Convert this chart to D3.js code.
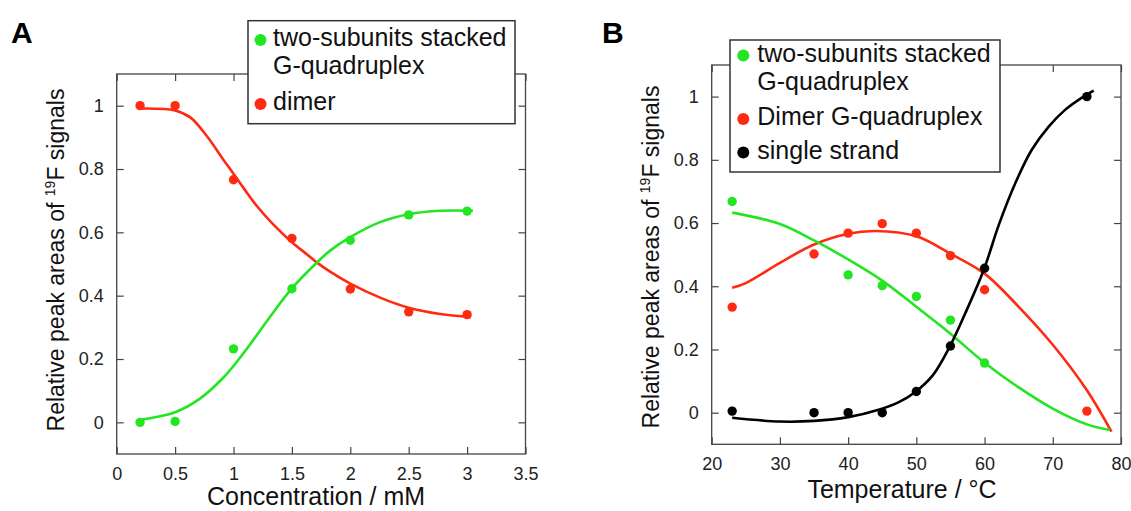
<!DOCTYPE html>
<html>
<head>
<meta charset="utf-8">
<script src="https://cdn.jsdelivr.net/npm/d3@7"></script>
<style>
  body { margin: 0; background: #fff; }
  svg { display: block; font-family: "Liberation Sans", Arial, sans-serif; }
</style>
</head>
<body>
<div id="app"></div>
<script>
// ---- Panel A: concentration series ----
const concA = [0.2, 0.5, 1, 1.5, 2, 2.5, 3];
const stackedA = [0, 0.003, 0.232, 0.422, 0.575, 0.655, 0.667];
const dimerA = [1.0, 1.0, 0.766, 0.581, 0.421, 0.349, 0.34];

// fitted curves in panel A
const fitConcStackedA = [0.2, 0.5, 0.71, 0.91, 1.0, 1.14, 1.31, 1.5, 1.71, 1.83, 2.0, 2.26, 2.5, 2.77, 3.05];
const fitStackedA = [0.008, 0.032, 0.074, 0.14, 0.178, 0.245, 0.332, 0.423, 0.503, 0.543, 0.585, 0.633, 0.657, 0.668, 0.668];
const fitConcDimerA = [0.2, 0.5, 0.63, 0.77, 0.91, 1.0, 1.09, 1.2, 1.34, 1.49, 1.63, 1.71, 1.83, 2.0, 2.26, 2.5, 2.77, 3.03];
const fitDimerA = [0.991, 0.985, 0.963, 0.905, 0.831, 0.785, 0.738, 0.683, 0.625, 0.572, 0.53, 0.506, 0.475, 0.438, 0.393, 0.362, 0.342, 0.332];

// ---- Panel B: temperature series ----
const tempStackedB = [23, 40, 45, 50, 55, 60];
const stackedB = [0.668, 0.436, 0.402, 0.368, 0.293, 0.157];
const tempB = [23, 35, 40, 45, 50, 55, 60, 75];
const dimerB = [0.334, 0.502, 0.568, 0.598, 0.568, 0.497, 0.389, 0.005];
const singleB = [0.005, 0, 0, 0, 0.067, 0.211, 0.457, 1.0];

// fitted curves in panel B
const fitTempStackedB = [23, 30, 35, 40, 45, 50, 55, 60, 65, 70, 75, 78.4];
const fitStackedB = [0.633, 0.597, 0.545, 0.485, 0.418, 0.335, 0.25, 0.158, 0.08, 0.013, -0.037, -0.055];
const fitTempDimerB = [23, 25, 30, 35, 40, 44, 50, 55, 60, 65, 70, 75, 78.6];
const fitDimerB = [0.395, 0.41, 0.474, 0.532, 0.566, 0.575, 0.558, 0.503, 0.44, 0.335, 0.215, 0.071, -0.06];
const fitTempSingleB = [23, 30, 35, 40, 44.6, 47.5, 49.7, 52.4, 54.8, 57.2, 59.9, 62.1, 64.5, 66.9, 69.4, 71.8, 74.5, 76];
const fitSingleB = [-0.016, -0.028, -0.026, -0.014, 0.01, 0.034, 0.063, 0.118, 0.205, 0.316, 0.453, 0.595, 0.726, 0.831, 0.905, 0.958, 1.0, 1.019];

// ---- ticks ----
const yTicks = [0, 0.2, 0.4, 0.6, 0.8, 1];
const xTicksA = [0, 0.5, 1, 1.5, 2, 2.5, 3, 3.5];
const xTicksB = [20, 30, 40, 50, 60, 70, 80];

const green = "#22e622";
const red = "#ff2a12";
const black = "#000";

const width = 1131;
const height = 511;

const svg = d3
  .select("#app")
  .append("svg")
  .attr("width", width)
  .attr("height", height);

function drawPanel(p) {
  const xScale = d3.scaleLinear().domain(p.xDomain).range(p.xRange);
  const yScale = d3.scaleLinear().domain([-0.1, 1.1]).range(p.yRange);
  const [left, right] = p.xRange;
  const [bottom, top] = p.yRange;
  const g = svg.append("g");

  // axes with inward ticks on all four sides
  const axes = [
    [d3.axisBottom(xScale).tickValues(p.xTicks), `translate(0,${bottom})`, true],
    [d3.axisTop(xScale).tickValues(p.xTicks), `translate(0,${top})`, false],
    [d3.axisLeft(yScale).tickValues(yTicks), `translate(${left},0)`, true],
    [d3.axisRight(yScale).tickValues(yTicks), `translate(${right},0)`, false]
  ];
  axes.forEach(([axis, tr, labels]) => {
    const a = g
      .append("g")
      .attr("transform", tr)
      .call(
        axis
          .tickSizeInner(-7)
          .tickSizeOuter(0)
          .tickPadding(13)
          .tickFormat(labels ? (d) => String(d) : "")
      );
    a.select(".domain").remove();
    a.selectAll("line").attr("stroke", "#444").attr("stroke-width", 1.2);
    a.selectAll("text")
      .attr("font-size", 18)
      .attr("fill", "#222")
      .attr("font-family", "Liberation Sans, Arial, sans-serif");
  });

  // frame
  g.append("rect")
    .attr("x", left)
    .attr("y", top)
    .attr("width", right - left)
    .attr("height", bottom - top)
    .attr("fill", "none")
    .attr("stroke", "#444")
    .attr("stroke-width", 1.3);

  const line = d3
    .line()
    .x((d) => xScale(d[0]))
    .y((d) => yScale(d[1]))
    .curve(d3.curveCatmullRom.alpha(0.5));

  // fitted curves
  p.fits.forEach((f) => {
    g.append("path")
      .datum(d3.zip(f.x, f.y))
      .attr("d", line)
      .attr("fill", "none")
      .attr("stroke", f.color)
      .attr("stroke-width", 2.6);
  });

  // data points
  p.points.forEach((s) => {
    g.selectAll(null)
      .data(d3.zip(s.x, s.y))
      .enter()
      .append("circle")
      .attr("cx", (d) => xScale(d[0]))
      .attr("cy", (d) => yScale(d[1]))
      .attr("r", 4.7)
      .attr("fill", s.color);
  });

  // axis titles
  g.append("text")
    .attr("x", p.xTitlePos[0])
    .attr("y", p.xTitlePos[1])
    .attr("text-anchor", "middle")
    .attr("font-size", 25)
    .attr("fill", "#111")
    .text(p.xTitle);

  const yt = g
    .append("text")
    .attr("transform", `translate(${p.yTitlePos[0]},${p.yTitlePos[1]}) rotate(-90)`)
    .attr("text-anchor", "middle")
    .attr("font-size", 23)
    .attr("fill", "#111");
  yt.append("tspan").text("Relative peak areas of ");
  yt.append("tspan").attr("font-size", 14).attr("dy", -9).text("19");
  yt.append("tspan").attr("dy", 9).text("F signals");

  // panel letter
  g.append("text")
    .attr("x", p.letterPos[0])
    .attr("y", p.letterPos[1])
    .attr("font-size", 30)
    .attr("font-weight", "bold")
    .attr("fill", "#000")
    .text(p.letter);

  // legend
  const lg = g.append("g");
  lg.append("rect")
    .attr("x", p.legend.box[0])
    .attr("y", p.legend.box[1])
    .attr("width", p.legend.box[2])
    .attr("height", p.legend.box[3])
    .attr("fill", "#fff")
    .attr("stroke", "#333")
    .attr("stroke-width", 1.5);
  p.legend.items.forEach((it) => {
    if (it.color) {
      lg.append("circle")
        .attr("cx", p.legend.markerX)
        .attr("cy", it.y - 6)
        .attr("r", 6)
        .attr("fill", it.color);
    }
    lg.append("text")
      .attr("x", p.legend.textX)
      .attr("y", it.y)
      .attr("font-size", 25)
      .attr("fill", "#111")
      .text(it.label);
  });
}

drawPanel({
  letter: "A",
  letterPos: [11, 43],
  xDomain: [0, 3.5],
  xRange: [116.7, 525.5],
  yRange: [454, 74],
  xTicks: xTicksA,
  xTitle: "Concentration / mM",
  xTitlePos: [316, 505],
  yTitlePos: [64, 260],
  fits: [
    { x: fitConcDimerA, y: fitDimerA, color: red },
    { x: fitConcStackedA, y: fitStackedA, color: green }
  ],
  points: [
    { x: concA, y: dimerA, color: red },
    { x: concA, y: stackedA, color: green }
  ],
  legend: {
    box: [248, 20.7, 267, 103],
    markerX: 260.5,
    textX: 273,
    items: [
      { label: "two-subunits stacked", y: 46, color: green },
      { label: "G-quadruplex", y: 74 },
      { label: "dimer", y: 110, color: red }
    ]
  }
});

drawPanel({
  letter: "B",
  letterPos: [602, 43],
  xDomain: [20, 80],
  xRange: [711.7, 1121],
  yRange: [444.3, 65],
  xTicks: xTicksB,
  xTitle: "Temperature / °C",
  xTitlePos: [902, 498],
  yTitlePos: [659, 257],
  fits: [
    { x: fitTempDimerB, y: fitDimerB, color: red },
    { x: fitTempStackedB, y: fitStackedB, color: green },
    { x: fitTempSingleB, y: fitSingleB, color: black }
  ],
  points: [
    { x: tempB, y: dimerB, color: red },
    { x: tempStackedB, y: stackedB, color: green },
    { x: tempB, y: singleB, color: black }
  ],
  legend: {
    box: [730, 40, 270, 132],
    markerX: 743.3,
    textX: 757.3,
    items: [
      { label: "two-subunits stacked", y: 61.5, color: green },
      { label: "G-quadruplex", y: 90 },
      { label: "Dimer G-quadruplex", y: 125, color: red },
      { label: "single strand", y: 158.5, color: black }
    ]
  }
});
</script>
</body>
</html>
